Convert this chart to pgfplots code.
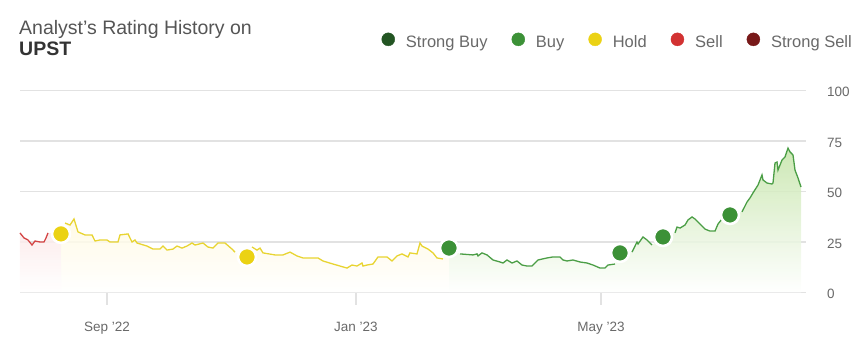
\documentclass[border=0pt]{standalone}
\usepackage{pgfplots}
\pgfplotsset{compat=1.18}
\usepackage{fontspec}
\setmainfont{Liberation Sans}
\definecolor{gridgray}{RGB}{226,226,226}
\definecolor{labgray}{RGB}{105,105,105}
\definecolor{titlegray}{RGB}{85,85,85}
\definecolor{sbuy}{RGB}{35,85,35}
\definecolor{buy}{RGB}{60,145,55}
\definecolor{hold}{RGB}{235,210,20}
\definecolor{sell}{RGB}{210,50,50}
\definecolor{ssell}{RGB}{120,25,25}
\definecolor{gline}{RGB}{75,158,70}
\definecolor{yline}{RGB}{232,212,50}
\definecolor{rline}{RGB}{212,70,70}
\definecolor{gfill}{RGB}{196,228,168}
\definecolor{yfill}{RGB}{255,249,225}
\definecolor{rfill}{RGB}{252,234,234}
\begin{document}
\begin{tikzpicture}
\path[use as bounding box] (0pt,0pt) rectangle (865pt,-355pt);
\begin{axis}[
  at={(20pt,-292.5pt)}, anchor=south west,
  scale only axis, width=786pt, height=202pt,
  xmin=20, xmax=806, ymin=0, ymax=100,
  clip=false,
  axis line style={draw=none},
  ytick={0,25,50,75,100},
  ymajorgrids, grid style={color=gridgray, line width=1.3pt},
  yticklabel pos=right,
  ytick style={draw=none},
  yticklabel style={anchor=west, inner sep=0pt, xshift=9pt, yshift=-1.5pt, font=\fontsize{13.5}{16}\selectfont, text=labgray},
  xtick={107,356,601},
  xtick pos=bottom,
  xticklabels={Sep '22, Jan '23, May '23},
  xtick style={draw=gridgray, line width=1.3pt},
  tick align=outside, major tick length=12pt,
  xticklabel style={anchor=north, inner sep=0pt, yshift=-17pt, font=\fontsize{13.5}{16}\selectfont, text=labgray},
  /pgf/number format/assume math mode=true,
  legend columns=-1,
  legend image code/.code={\fill[#1] (0pt,0.33em) circle (6.5pt);},
  legend style={draw=none, fill=none, inner sep=0pt, at={(1.0585,1.245)}, anchor=east,
    font=\fontsize{16.5}{19}\selectfont, text=labgray,
    /tikz/every odd column/.append style={column sep=11pt},
    /tikz/every even column/.append style={column sep=24pt},
    nodes={inner sep=0pt}},
]
% legend
\addlegendimage{sbuy}\addlegendentry{Strong Buy}
\addlegendimage{buy}\addlegendentry{Buy}
\addlegendimage{hold}\addlegendentry{Hold}
\addlegendimage{sell}\addlegendentry{Sell}
\addlegendimage{ssell}\addlegendentry{Strong Sell}
% fills
\addplot[draw=none, top color=rfill, bottom color=white, fill opacity=0.85, forget plot] coordinates {
(20,29.5)(24,27.0)(28,26.0)(32,23.5)(35,25.5)(40,25.0)(44,25.0)(46,27.0)(48,29.5)(61,29.0)
} \closedcycle;
\addplot[draw=none, top color=yfill, bottom color=white, fill opacity=0.85, forget plot] coordinates {
(61,29.0)(65,34.4)(70,33.4)(74,36.4)(78,30.0)(85,28.5)(92,28.5)(95,25.5)(100,26.0)(107,26.0)(110,25.0)(118,25.0)(120,28.5)(128,29.0)(132,25.0)(135,26.0)(137,24.5)(147,23.0)(153,21.5)(160,21.5)(163,23.0)(167,21.0)(173,21.5)(177,23.0)(182,22.0)(187,23.0)(192,24.5)(195,23.5)(203,24.5)(208,22.5)(213,22.0)(218,24.5)(225,24.5)(232,21.5)(235,20.0)
(247,17.6)
(252,22.5)(257,21.0)(260,22.0)(263,19.6)(275,18.6)(283,18.6)(290,20.0)(297,18.1)(303,17.1)(315,17.1)(318,17.1)(323,15.6)(333,14.1)(340,13.1)(347,12.1)(352,13.6)(357,13.1)(362,14.6)(363,13.1)(367,13.6)(373,14.1)(378,17.6)(387,17.6)(392,15.6)(397,18.1)(402,19.1)(408,17.6)(410,19.6)(417,19.1)(420,24.5)(422,23.0)(428,21.5)(433,19.6)(437,17.1)(443,16.6)
(449,22.0)
} \closedcycle;
\addplot[draw=none, top color=gfill, bottom color=white, fill opacity=0.85, forget plot] coordinates {
(449,22.0)
(460,19.1)(473,18.6)(477,19.1)(478,18.1)(482,19.6)(487,18.6)(493,16.1)(500,15.1)(503,14.6)(507,16.1)(512,14.6)(517,15.6)(522,13.6)(527,13.1)(532,13.1)(538,16.1)(547,17.1)(553,17.6)(560,17.6)(563,16.1)(567,15.6)(573,16.1)(580,15.1)(587,14.6)(593,13.6)(600,12.1)(605,12.1)(608,13.6)(615,14.1)
(620,19.6)
(632,20.0)(637,25.0)(638,24.0)(643,27.5)(647,26.0)(650,24.5)(652,23.5)
(663,27.5)
(675,29.5)(677,32.4)(680,31.9)(685,33.4)(688,35.9)(692,37.4)(695,36.4)(700,33.9)(705,31.4)(710,30.4)(715,30.4)(718,33.9)(722,36.4)
(730,38.4)
(742,39.9)(747,44.8)(750,46.8)(753,49.3)(758,53.2)(762,58.2)(763,55.7)(767,54.2)(772,53.7)(773,54.2)(775,64.1)(777,64.6)(778,60.6)(782,65.6)(785,67.1)(788,71.5)(790,69.6)(792,68.6)(793,68.1)(795,60.6)(798,56.7)(801,52.2)
} \closedcycle;
% lines
\addplot[rline, line width=1.3pt, forget plot] coordinates {
(20,29.5)(24,27.0)(28,26.0)(32,23.5)(35,25.5)(40,25.0)(44,25.0)(46,27.0)(48,29.5)
};
\addplot[yline, line width=1.3pt, forget plot] coordinates {
(65,34.4)(70,33.4)(74,36.4)(78,30.0)(85,28.5)(92,28.5)(95,25.5)(100,26.0)(107,26.0)(110,25.0)(118,25.0)(120,28.5)(128,29.0)(132,25.0)(135,26.0)(137,24.5)(147,23.0)(153,21.5)(160,21.5)(163,23.0)(167,21.0)(173,21.5)(177,23.0)(182,22.0)(187,23.0)(192,24.5)(195,23.5)(203,24.5)(208,22.5)(213,22.0)(218,24.5)(225,24.5)(232,21.5)(235,20.0)
};
\addplot[yline, line width=1.3pt, forget plot] coordinates {
(252,22.5)(257,21.0)(260,22.0)(263,19.6)(275,18.6)(283,18.6)(290,20.0)(297,18.1)(303,17.1)(315,17.1)(318,17.1)(323,15.6)(333,14.1)(340,13.1)(347,12.1)(352,13.6)(357,13.1)(362,14.6)(363,13.1)(367,13.6)(373,14.1)(378,17.6)(387,17.6)(392,15.6)(397,18.1)(402,19.1)(408,17.6)(410,19.6)(417,19.1)(420,24.5)(422,23.0)(428,21.5)(433,19.6)(437,17.1)(443,16.6)
};
\addplot[gline, line width=1.3pt, forget plot] coordinates {
(460,19.1)(473,18.6)(477,19.1)(478,18.1)(482,19.6)(487,18.6)(493,16.1)(500,15.1)(503,14.6)(507,16.1)(512,14.6)(517,15.6)(522,13.6)(527,13.1)(532,13.1)(538,16.1)(547,17.1)(553,17.6)(560,17.6)(563,16.1)(567,15.6)(573,16.1)(580,15.1)(587,14.6)(593,13.6)(600,12.1)(605,12.1)(608,13.6)(615,14.1)
};
\addplot[gline, line width=1.3pt, forget plot] coordinates {
(632,20.0)(637,25.0)(638,24.0)(643,27.5)(647,26.0)(650,24.5)(652,23.5)
};
\addplot[gline, line width=1.3pt, forget plot] coordinates {
(675,29.5)(677,32.4)(680,31.9)(685,33.4)(688,35.9)(692,37.4)(695,36.4)(700,33.9)(705,31.4)(710,30.4)(715,30.4)(718,33.9)(722,36.4)
};
\addplot[gline, line width=1.3pt, forget plot] coordinates {
(742,39.9)(747,44.8)(750,46.8)(753,49.3)(758,53.2)(762,58.2)(763,55.7)(767,54.2)(772,53.7)(773,54.2)(775,64.1)(777,64.6)(778,60.6)(782,65.6)(785,67.1)(788,71.5)(790,69.6)(792,68.6)(793,68.1)(795,60.6)(798,56.7)(801,52.2)
};
% rating dots
\addplot[only marks, mark=*, mark size=9pt, mark options={fill=hold, draw=white, line width=2.6pt}, forget plot] coordinates {(61,29.0)(247,17.6)};
\addplot[only marks, mark=*, mark size=9pt, mark options={fill=buy, draw=white, line width=2.6pt}, forget plot] coordinates {(449,22.0)(620,19.6)(663,27.5)(730,38.4)};
\end{axis}
\node[anchor=base west, inner sep=0pt, font=\fontsize{19.5}{22}\selectfont, text=titlegray] at (19pt,-35pt) {Analyst's Rating History on};
\node[anchor=base west, inner sep=0pt, font=\fontsize{19.5}{22}\selectfont\bfseries, text=black!80] at (19pt,-56pt) {UPST};
\end{tikzpicture}
\end{document}
